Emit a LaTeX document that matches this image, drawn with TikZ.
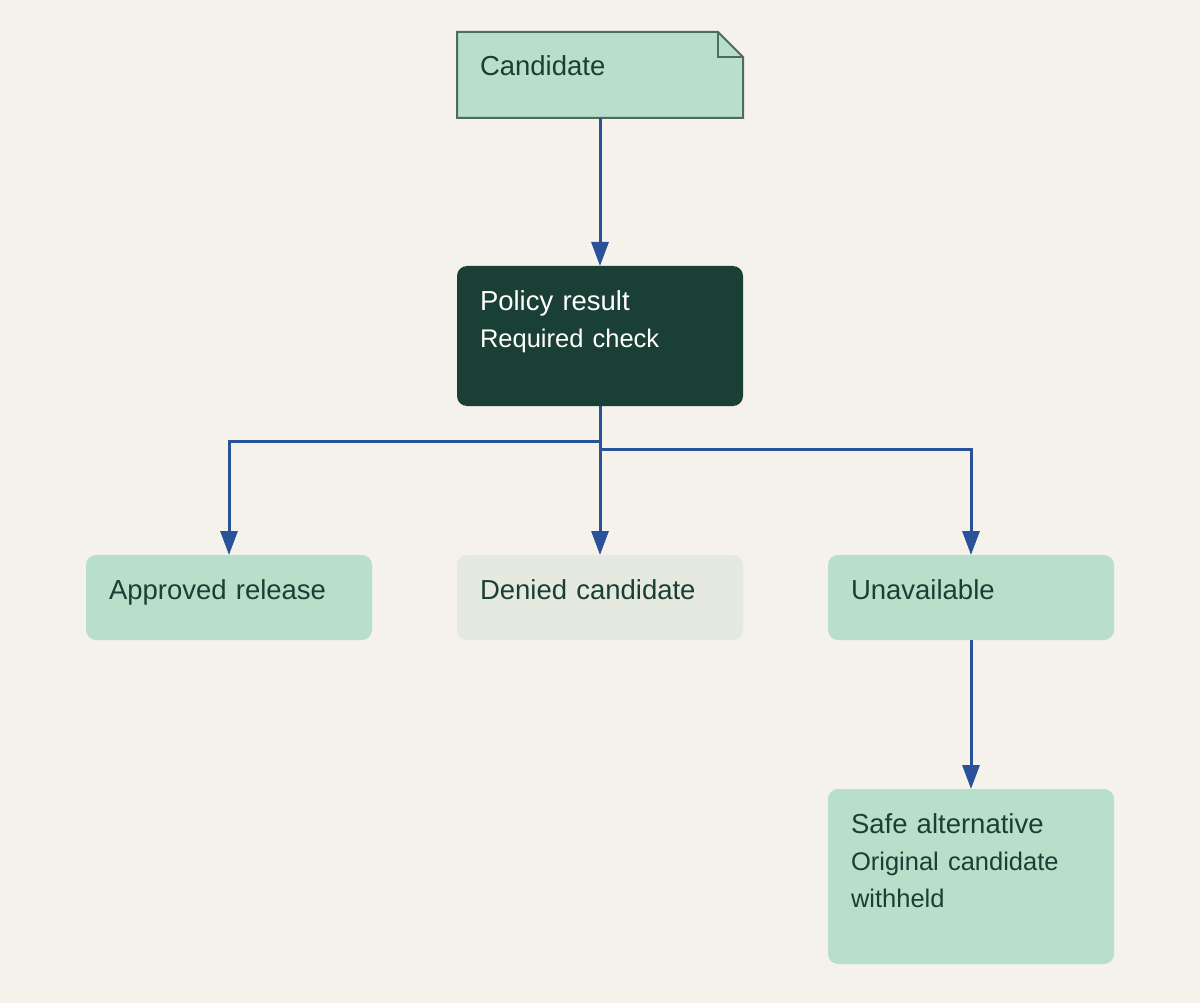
\documentclass[tikz,border=0pt]{standalone}
\usepackage{fontspec}
\setmainfont{Liberation Sans}
\usetikzlibrary{arrows.meta,backgrounds}
\definecolor{paper}{HTML}{F5F2EB}
\definecolor{mint}{HTML}{B8DFC9}
\definecolor{pine}{HTML}{1A4036}
\definecolor{mist}{HTML}{E5E9E0}
\definecolor{noteline}{HTML}{4E6B5C}
\definecolor{flow}{HTML}{2A5298}
\newcommand\subline[1]{{\fontsize{25.5}{37}\selectfont #1}}

\begin{document}
\begin{tikzpicture}[x=1pt,y=-1pt,
    box/.style={anchor=north west,outer sep=0pt,minimum width=286pt,inner xsep=23pt,inner ysep=0pt,
      text width=240pt,align=left,text height=44pt,rounded corners=10pt,text=pine,
      font=\fontsize{27.5}{37}\selectfont},
    link/.style={draw=flow,line width=3pt,-{Triangle[width=17pt,length=24pt]}}]
        \useasboundingbox (0,0) rectangle (1200,1003);
        \node[box,text depth=42pt] (cand) at (457,32) {Candidate};
        \begin{scope}[on background layer]
          \fill[paper] (0,0) rectangle (1200,1003);
          \filldraw[fill=mint,draw=noteline,line width=2pt] (cand.north west) -- ([xshift=-25pt]cand.north east) -- ([yshift=-25pt]cand.north east) -- (cand.south east) -- (cand.south west) -- cycle;
        \end{scope}
        \draw[noteline,line width=2pt] ([xshift=-25pt]cand.north east) -- ([xshift=-25pt,yshift=-25pt]cand.north east) -- ([yshift=-25pt]cand.north east);
        \node[box,fill=pine,text=white,text depth=96pt] (pol) at (457,266) {Policy result\\\subline{Required check}};
        \node[box,fill=mint,text depth=41pt] (appr) at (86,555) {Approved release};
        \node[box,fill=mist,text depth=41pt] (deny) at (457,555) {Denied candidate};
        \node[box,fill=mint,text depth=41pt] (unav) at (828,555) {Unavailable};
        \node[box,fill=mint,text depth=131pt] (safe) at (828,789) {Safe alternative\\\subline{Original candidate\\withheld}};
        \draw[link] (cand.south) -- (pol.north);
        \draw[link] (pol.south) -- ++(0,35) -| (appr.north);
        \draw[link] (pol.south) -- (deny.north);
        \draw[link] (pol.south) -- ++(0,43) -| (unav.north);
        \draw[link] (unav.south) -- (safe.north);
      \end{tikzpicture}
\end{document}
